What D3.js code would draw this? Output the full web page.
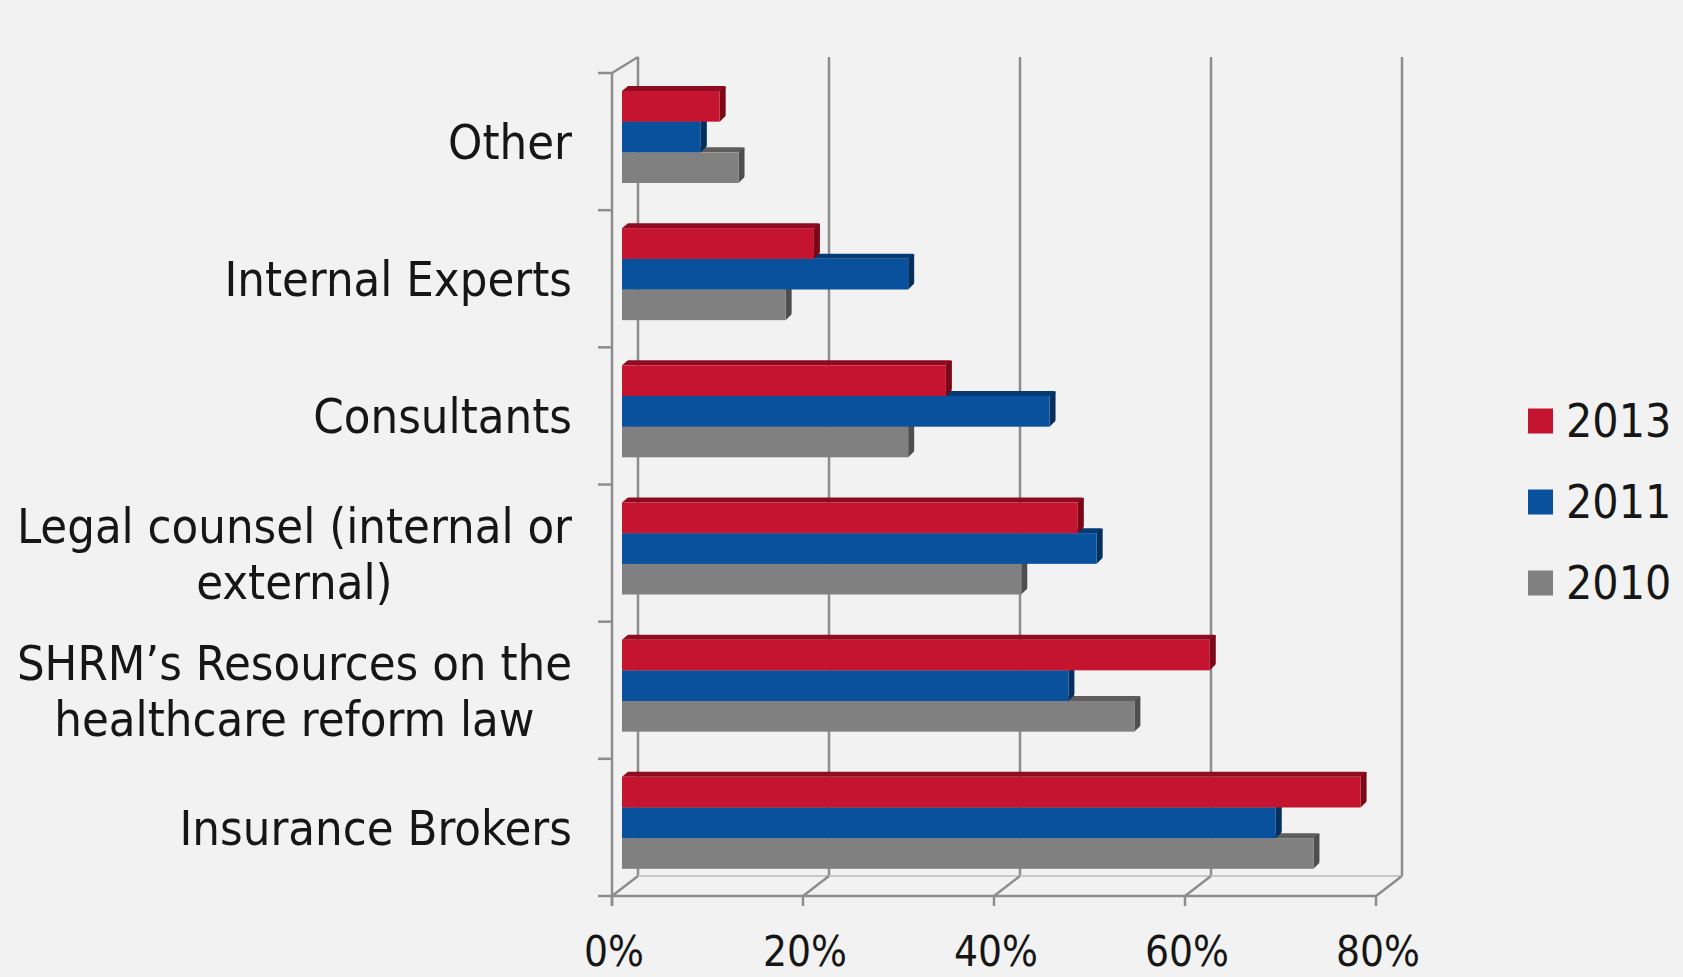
<!DOCTYPE html>
<html>
<head>
<meta charset="utf-8">
<script src="https://cdn.jsdelivr.net/npm/d3@7"></script>
<style>
  html, body { margin: 0; padding: 0; background: #f2f2f2; }
  svg { display: block; }
  text { font-family: "DejaVu Sans Condensed", "DejaVu Sans", sans-serif; fill: #161616; }
</style>
</head>
<body>
<script>
// ---------- data ----------
const categories = ["Other", "Internal Experts", "Consultants",
  "Legal counsel (internal or external)",
  "SHRM\u2019s Resources on the healthcare reform law", "Insurance Brokers"];
const categoryLines = [["Other"], ["Internal Experts"], ["Consultants"],
  ["Legal counsel (internal or", "external)"],
  ["SHRM\u2019s Resources on the", "healthcare reform law"], ["Insurance Brokers"]];
const years = ["2013", "2011", "2010"];
const values2013 = [11, 21, 35, 49, 63, 79];
const values2011 = [9, 31, 46, 51, 48, 70];
const values2010 = [13, 18, 31, 43, 55, 74];
const xTicks = [0, 20, 40, 60, 80];

const seriesValues = { "2013": values2013, "2011": values2011, "2010": values2010 };
const colors = { "2013": "#c5142f", "2011": "#0a519d", "2010": "#808080" };
const topColors = { "2013": "#8f0b1f", "2011": "#063a72", "2010": "#5e5e5e" };
const sideColors = { "2013": "#7a0818", "2011": "#05305e", "2010": "#4e4e4e" };

// ---------- layout ----------
const W = 1683, H = 977;
const svg = d3.select("body").append("svg").attr("width", W).attr("height", H);
svg.append("rect").attr("width", W).attr("height", H).attr("fill", "#f2f2f2");

const frontTop = 73, frontBottom = 896;
const DX = 26, DY = -20;          // wall depth offset
const xFront = d3.scaleLinear().domain([0, 80]).range([612, 1376]);
const xBack = v => xFront(v) + DX;
const xBar = d3.scaleLinear().domain([0, 80]).range([622, 1376]);
const y0 = d3.scaleBand().domain(categories).range([frontTop, frontBottom]);
const y1 = d3.scaleBand().domain(years).range([18, 110]);

const gridCol = "#8d8d8d";

// back wall gridlines
svg.append("g").selectAll("line").data(xTicks).join("line")
  .attr("x1", d => xBack(d)).attr("x2", d => xBack(d))
  .attr("y1", frontTop - 16).attr("y2", frontBottom + DY)
  .attr("stroke", gridCol).attr("stroke-width", 2.5);

// floor back edge
svg.append("line").attr("x1", xBack(0)).attr("x2", xBack(80))
  .attr("y1", frontBottom + DY).attr("y2", frontBottom + DY)
  .attr("stroke", "#c8c8c8").attr("stroke-width", 2);

// floor diagonals from front ticks to back wall
svg.append("g").selectAll("line").data(xTicks).join("line")
  .attr("x1", d => xFront(d)).attr("y1", frontBottom)
  .attr("x2", d => xBack(d)).attr("y2", frontBottom + DY)
  .attr("stroke", gridCol).attr("stroke-width", 2.5);

// top-left wall diagonal
svg.append("line").attr("x1", xFront(0)).attr("y1", frontTop)
  .attr("x2", xBack(0)).attr("y2", frontTop - 16)
  .attr("stroke", gridCol).attr("stroke-width", 2.5);

// ---------- 3D bars ----------
const bd = 6, bdy = -5; // bar depth
const bars = svg.append("g");
const order = ["2010", "2011", "2013"]; // draw lower ones first
categories.forEach((c, ci) => {
  order.forEach(yr => {
    const v = seriesValues[yr][ci];
    const yTop = y0(c) + y1(yr);
    const h = y1.bandwidth();
    const xs = xBar(0), xe = xBar(v) - bd;
    const g = bars.append("g");
    // top face
    g.append("path")
      .attr("d", `M${xs},${yTop} L${xs + bd},${yTop + bdy} L${xe + bd - 2},${yTop + bdy} Q${xe + bd},${yTop + bdy} ${xe + bd},${yTop + bdy + 2} L${xe},${yTop} Z`)
      .attr("fill", topColors[yr]);
    // end face
    g.append("path")
      .attr("d", `M${xe},${yTop} L${xe + bd},${yTop + bdy} L${xe + bd},${yTop + h + bdy - 2} Q${xe + bd},${yTop + h + bdy} ${xe + bd - 2},${yTop + h + bdy + 1} L${xe},${yTop + h} Z`)
      .attr("fill", sideColors[yr]);
    // front face
    g.append("rect").attr("x", xs).attr("y", yTop)
      .attr("width", xe - xs).attr("height", h)
      .attr("fill", colors[yr]);
  });
});

// ---------- front axes ----------
// left (category) axis
svg.append("line").attr("x1", xFront(0)).attr("x2", xFront(0))
  .attr("y1", frontTop).attr("y2", frontBottom + 10)
  .attr("stroke", gridCol).attr("stroke-width", 2.5);
const catBounds = categories.map(c => y0(c)).concat([frontBottom]);
svg.append("g").selectAll("line").data(catBounds).join("line")
  .attr("x1", xFront(0) - 14).attr("x2", xFront(0))
  .attr("y1", d => d).attr("y2", d => d)
  .attr("stroke", gridCol).attr("stroke-width", 2.5);

// bottom (value) axis
svg.append("line").attr("x1", xFront(0)).attr("x2", xFront(80))
  .attr("y1", frontBottom).attr("y2", frontBottom)
  .attr("stroke", gridCol).attr("stroke-width", 2.5);
svg.append("g").selectAll("line").data(xTicks).join("line")
  .attr("x1", d => xFront(d)).attr("x2", d => xFront(d))
  .attr("y1", frontBottom).attr("y2", frontBottom + 10)
  .attr("stroke", gridCol).attr("stroke-width", 2.5);

// x tick labels
svg.append("g").selectAll("text").data(xTicks).join("text")
  .attr("x", d => xFront(d) + 2).attr("y", 966)
  .attr("text-anchor", "middle")
  .attr("font-size", 42)
  .text(d => d + "%");

// category labels
const labelRight = 572, lineH = 56, fs = 48.5;
categories.forEach((c, ci) => {
  const lines = categoryLines[ci];
  const cy = y0(c) + y0.bandwidth() / 2;
  const g = svg.append("g");
  const texts = lines.map((ln, li) => g.append("text")
    .attr("font-size", fs)
    .attr("y", cy + (li - (lines.length - 1) / 2) * lineH + fs * 0.36)
    .text(ln));
  const maxW = d3.max(texts, t => t.node().getComputedTextLength());
  texts.forEach(t => t.attr("x", labelRight - maxW / 2).attr("text-anchor", "middle"));
});

// ---------- legend ----------
const legY = d3.scalePoint().domain(years).range([421, 583]);
const leg = svg.append("g");
years.forEach(yr => {
  leg.append("rect").attr("x", 1528).attr("y", legY(yr) - 12.5)
    .attr("width", 25).attr("height", 25).attr("fill", colors[yr]);
  leg.append("text").attr("x", 1566).attr("y", legY(yr) + 16)
    .attr("font-size", 46).text(yr);
});
</script>
</body>
</html>
